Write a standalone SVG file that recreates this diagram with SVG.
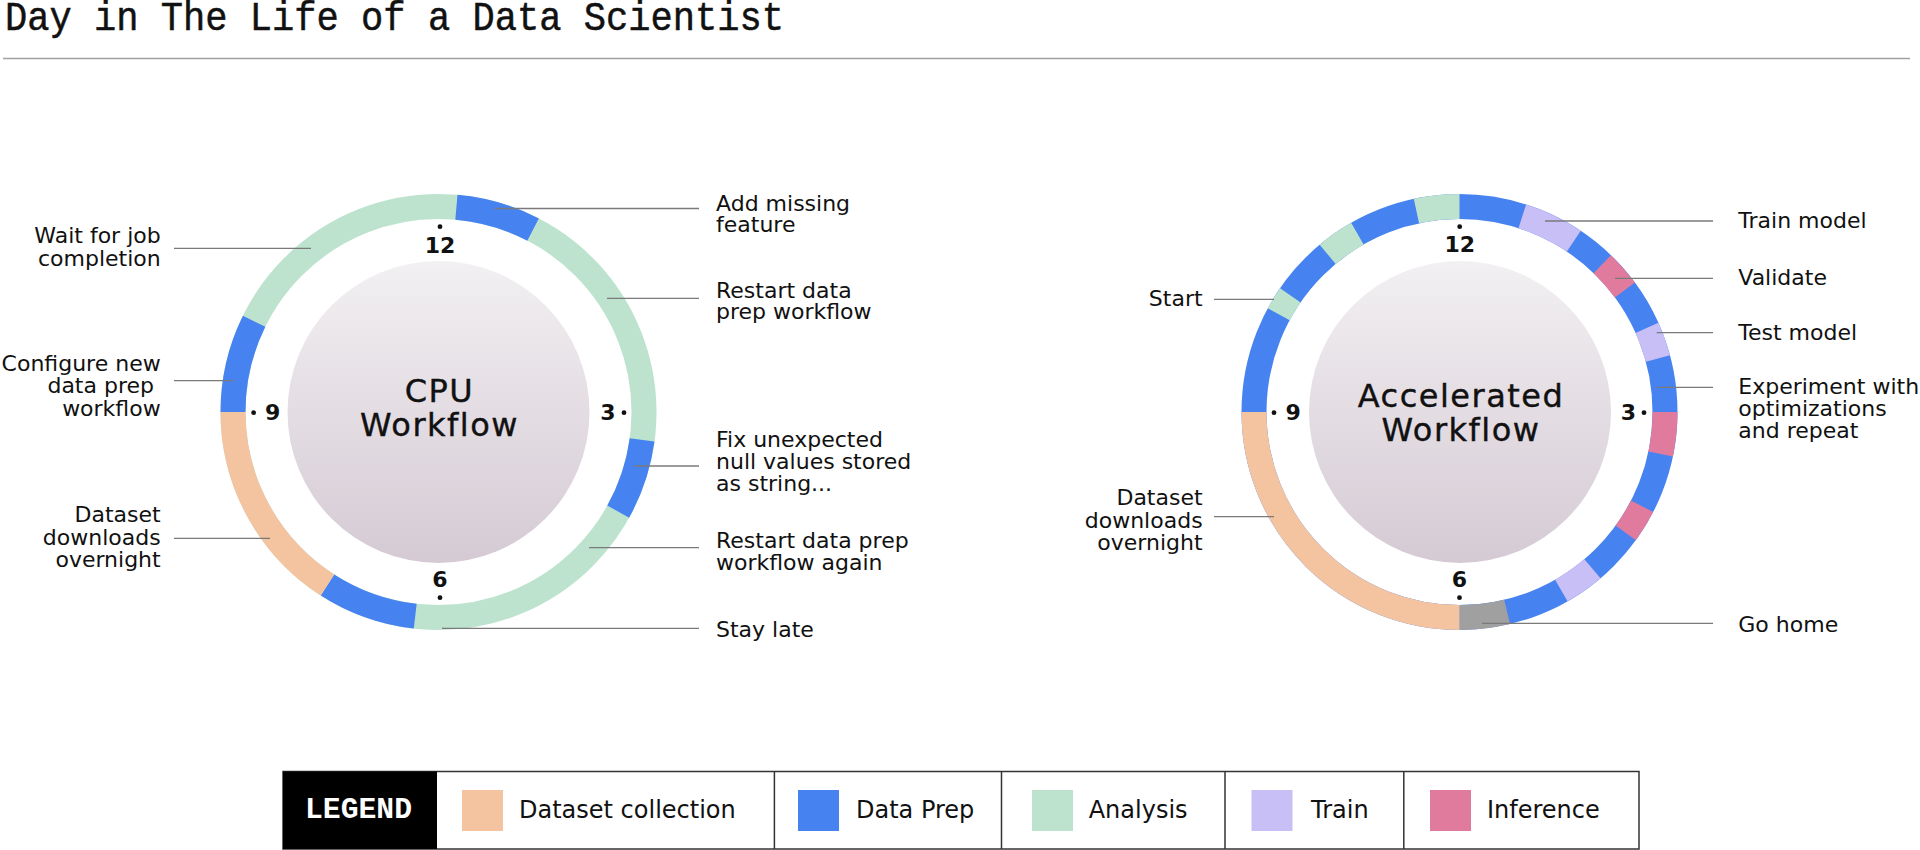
<svg xmlns="http://www.w3.org/2000/svg" width="1920" height="850" viewBox="0 0 1920 850">
  <defs>
    <linearGradient id="face" x1="0" y1="0" x2="0" y2="1">
      <stop offset="0" stop-color="#F2F0F2"/>
      <stop offset="1" stop-color="#D5CAD4"/>
    </linearGradient>
    <style>
      .lbl { font-family: "DejaVu Sans", "Open Sans", sans-serif; font-size: 22px; fill: #111; }
      .end { text-anchor: end; }
      .ctr { font-family: "DejaVu Sans", sans-serif; font-size: 32px; fill: #111; text-anchor: middle; letter-spacing: 1.5px; stroke: #111; stroke-width: 0.4; }
      .num { font-family: "DejaVu Sans", sans-serif; font-size: 22px; font-weight: 600; fill: #111; }
      .seg { fill: none; stroke-width: 25; stroke-linecap: butt; }
      .lead { stroke: #7a7a7a; stroke-width: 1.3; fill: none; }
      .leg { font-family: "DejaVu Sans", sans-serif; font-size: 24px; fill: #111; }
      .blue { stroke: #4783F0; }
      .green { stroke: #BDE3CF; }
      .orange { stroke: #F4C3A0; }
      .purple { stroke: #C8BFF6; }
      .pink { stroke: #E07B9E; }
      .gray { stroke: #A0A0A0; }
    </style>
  </defs>
  <rect width="1920" height="850" fill="#FFFFFF"/>

  <!-- Title -->
  <text x="5" y="30" font-family="Liberation Mono, monospace" font-size="40" fill="#111" stroke="#111" stroke-width="0.5" textLength="779" lengthAdjust="spacingAndGlyphs">Day in The Life of a Data Scientist</text>
  <line x1="3" y1="58.5" x2="1910" y2="58.5" stroke="#A0A0A0" stroke-width="1.5"/>

  <!-- CPU clock -->
  <g id="cpu-clock">
    <circle cx="438.5" cy="412" r="151" fill="url(#face)"/>
    <circle class="seg green" cx="438.5" cy="412" r="205.5"/>
    <path class="seg blue" d="M456.41 207.28 A205.5 205.5 0 0 1 533.07 229.55"/>
    <path class="seg blue" d="M642.10 439.89 A205.5 205.5 0 0 1 618.23 511.63"/>
    <path class="seg blue" d="M415.24 616.18 A205.5 205.5 0 0 1 327.48 584.93"/>
    <path class="seg orange" d="M327.48 584.93 A205.5 205.5 0 0 1 233 412"/>
    <path class="seg blue" d="M233 412 A205.5 205.5 0 0 1 254.11 321.27"/>
    <text class="ctr" x="439.5" y="401.7">CPU</text>
    <text class="ctr" x="439.5" y="435.7">Workflow</text>
    <circle cx="440" cy="226.7" r="2.4" fill="#111"/>
    <text class="num" x="440" y="252.7" text-anchor="middle">12</text>
    <circle cx="440" cy="597.7" r="2.4" fill="#111"/>
    <text class="num" x="440" y="586.7" text-anchor="middle">6</text>
    <circle cx="253.6" cy="412.7" r="2.4" fill="#111"/>
    <text class="num" x="265" y="420">9</text>
    <circle cx="624" cy="412.7" r="2.4" fill="#111"/>
    <text class="num" x="615.5" y="420" text-anchor="end">3</text>
  </g>

  <!-- Accelerated clock -->
  <g id="accel-clock">
    <circle cx="1460" cy="412" r="151" fill="url(#face)"/>
    <circle class="seg blue" cx="1459.5" cy="412" r="205.5"/>
    <path class="seg purple" d="M1522.32 216.34 A205.5 205.5 0 0 1 1573.82 241.23"/>
    <path class="seg pink" d="M1602.25 264.18 A205.5 205.5 0 0 1 1624.87 290.01"/>
    <path class="seg purple" d="M1646.94 327.76 A205.5 205.5 0 0 1 1657.90 358.47"/>
    <path class="seg pink" d="M1665 412 A205.5 205.5 0 0 1 1660.66 454.02"/>
    <path class="seg pink" d="M1642.11 506.25 A205.5 205.5 0 0 1 1625.75 532.79"/>
    <path class="seg purple" d="M1592.42 568.73 A205.5 205.5 0 0 1 1561.32 590.50"/>
    <path class="seg gray" d="M1507.12 611.91 A205.5 205.5 0 0 1 1459.5 617.5"/>
    <path class="seg orange" d="M1459.5 617.5 A205.5 205.5 0 0 1 1254 412"/>
    <path class="seg green" d="M1278.73 314.26 A205.5 205.5 0 0 1 1290.34 295.31"/>
    <path class="seg green" d="M1327.68 254.35 A205.5 205.5 0 0 1 1357.37 233.67"/>
    <path class="seg green" d="M1416.42 211.07 A205.5 205.5 0 0 1 1459.5 206.5"/>
    <text class="ctr" x="1461" y="406.7">Accelerated</text>
    <text class="ctr" x="1461" y="440.7">Workflow</text>
    <circle cx="1459.7" cy="226.7" r="2.4" fill="#111"/>
    <text class="num" x="1459.7" y="251.7" text-anchor="middle">12</text>
    <circle cx="1459.5" cy="597.7" r="2.4" fill="#111"/>
    <text class="num" x="1459.5" y="586.7" text-anchor="middle">6</text>
    <circle cx="1274" cy="412.7" r="2.4" fill="#111"/>
    <text class="num" x="1285.6" y="420">9</text>
    <circle cx="1644" cy="412.7" r="2.4" fill="#111"/>
    <text class="num" x="1636" y="420" text-anchor="end">3</text>
  </g>

  <!-- Connectors (leader lines) -->
  <g id="connectors">
    <line class="lead" x1="494.6" y1="208.5" x2="699" y2="208.5"/>
    <line class="lead" x1="607" y1="298.3" x2="699" y2="298.3"/>
    <line class="lead" x1="634" y1="466" x2="699" y2="466"/>
    <line class="lead" x1="589" y1="547.7" x2="699" y2="547.7"/>
    <line class="lead" x1="442" y1="628.3" x2="699" y2="628.3"/>
    <line class="lead" x1="174" y1="248.3" x2="311" y2="248.3"/>
    <line class="lead" x1="174" y1="380.7" x2="234" y2="380.7"/>
    <line class="lead" x1="174" y1="538.3" x2="270" y2="538.3"/>
    <line class="lead" x1="1545" y1="221" x2="1713" y2="221"/>
    <line class="lead" x1="1615" y1="278.3" x2="1713" y2="278.3"/>
    <line class="lead" x1="1656.7" y1="332.7" x2="1713" y2="332.7"/>
    <line class="lead" x1="1656.7" y1="387.3" x2="1713" y2="387.3"/>
    <line class="lead" x1="1482" y1="623.3" x2="1713" y2="623.3"/>
    <line class="lead" x1="1214" y1="299.3" x2="1274" y2="299.3"/>
    <line class="lead" x1="1214" y1="516.7" x2="1274" y2="516.7"/>
  </g>

  <!-- CPU labels -->
  <g id="cpu-label-add-missing"><text class="lbl" x="716" y="211"><tspan x="716">Add missing</tspan><tspan x="716" y="232">feature</tspan></text></g>
  <g id="cpu-label-restart"><text class="lbl" x="716" y="298"><tspan x="716">Restart data</tspan><tspan x="716" y="319">prep workflow</tspan></text></g>
  <g id="cpu-label-fix"><text class="lbl" x="716" y="447"><tspan x="716">Fix unexpected</tspan><tspan x="716" y="469">null values stored</tspan><tspan x="716" y="491">as string...</tspan></text></g>
  <g id="cpu-label-restart-again"><text class="lbl" x="716" y="547.7"><tspan x="716">Restart data prep</tspan><tspan x="716" y="570">workflow again</tspan></text></g>
  <g id="cpu-label-stay-late"><text class="lbl" x="716" y="636.7">Stay late</text></g>
  <g id="cpu-label-wait"><text class="lbl end" x="160.7" y="243.3"><tspan x="160.7">Wait for job</tspan><tspan x="160.7" y="266">completion</tspan></text></g>
  <g id="cpu-label-configure"><text class="lbl end" x="160.7" y="371"><tspan x="160.7">Configure new</tspan><tspan x="154" y="392.7">data prep</tspan><tspan x="160.7" y="415.7">workflow</tspan></text></g>
  <g id="cpu-label-dataset"><text class="lbl end" x="160.7" y="521.7"><tspan x="160.7">Dataset</tspan><tspan x="160.7" y="545">downloads</tspan><tspan x="160.7" y="566.7">overnight</tspan></text></g>

  <!-- Accelerated labels -->
  <g id="acc-label-train"><text class="lbl" x="1738.3" y="227.7">Train model</text></g>
  <g id="acc-label-validate"><text class="lbl" x="1738.3" y="285">Validate</text></g>
  <g id="acc-label-test"><text class="lbl" x="1738.3" y="340">Test model</text></g>
  <g id="acc-label-experiment"><text class="lbl" x="1738.3" y="394"><tspan x="1738.3">Experiment with</tspan><tspan x="1738.3" y="416">optimizations</tspan><tspan x="1738.3" y="438.3">and repeat</tspan></text></g>
  <g id="acc-label-go-home"><text class="lbl" x="1738.3" y="631.7">Go home</text></g>
  <g id="acc-label-start"><text class="lbl end" x="1202.6" y="306">Start</text></g>
  <g id="acc-label-dataset"><text class="lbl end" x="1202.6" y="505"><tspan x="1202.6">Dataset</tspan><tspan x="1202.6" y="527.7">downloads</tspan><tspan x="1202.6" y="550">overnight</tspan></text></g>

  <!-- Legend -->
  <g id="legend">
    <rect x="283" y="771.5" width="1356" height="77.5" fill="#FFFFFF" stroke="#333" stroke-width="1.5"/>
    <rect x="283" y="771.5" width="154" height="77.5" fill="#000"/>
    <text x="305" y="818" font-family="Liberation Mono, monospace" font-size="29" font-weight="bold" fill="#FFF" textLength="107" lengthAdjust="spacingAndGlyphs">LEGEND</text>
    <line x1="774.4" y1="771.5" x2="774.4" y2="849" stroke="#333" stroke-width="1.5"/>
    <line x1="1001.5" y1="771.5" x2="1001.5" y2="849" stroke="#333" stroke-width="1.5"/>
    <line x1="1225" y1="771.5" x2="1225" y2="849" stroke="#333" stroke-width="1.5"/>
    <line x1="1403.8" y1="771.5" x2="1403.8" y2="849" stroke="#333" stroke-width="1.5"/>
    <rect x="462" y="790" width="41" height="41" fill="#F4C3A0"/>
    <text class="leg" x="519" y="818">Dataset collection</text>
    <rect x="798" y="790" width="41" height="41" fill="#4783F0"/>
    <text class="leg" x="856" y="818">Data Prep</text>
    <rect x="1032" y="790" width="41" height="41" fill="#BDE3CF"/>
    <text class="leg" x="1088.7" y="818">Analysis</text>
    <rect x="1251.5" y="790" width="41" height="41" fill="#C8BFF6"/>
    <text class="leg" x="1311" y="818">Train</text>
    <rect x="1430" y="790" width="41" height="41" fill="#E07B9E"/>
    <text class="leg" x="1487" y="818">Inference</text>
  </g>
</svg>
